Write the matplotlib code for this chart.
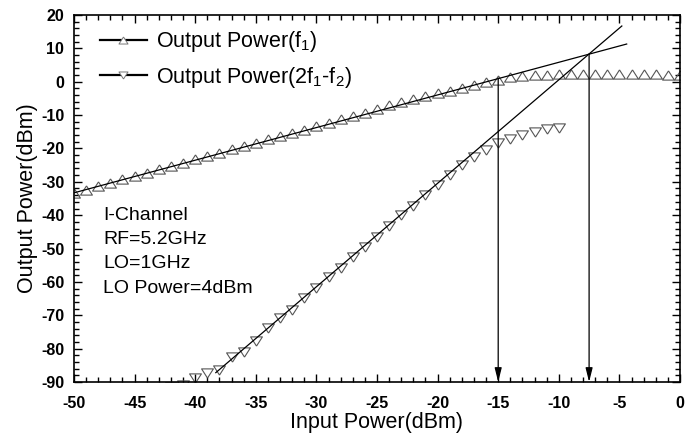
import matplotlib
matplotlib.use("Agg")
import matplotlib.pyplot as plt
from matplotlib.lines import Line2D
from matplotlib.ticker import MultipleLocator

plt.rcParams['font.family'] = ['Liberation Sans', 'DejaVu Sans']
plt.rcParams['mathtext.fontset'] = 'custom'
plt.rcParams['mathtext.rm'] = 'Liberation Sans'
plt.rcParams['mathtext.it'] = 'Liberation Sans:italic'
plt.rcParams['axes.unicode_minus'] = False

# fundamental output power, input -50..0 dBm
pin_f1 = list(range(-50, 1))
pout_f1 = [-33.3, -32.4, -31.2, -30.3, -29.1, -28.2, -27.3, -26.2, -25.2, -24.3,
           -23.2, -22.2, -21.4, -20.2, -19.3, -18.4, -17.2, -16.3, -15.4, -14.4,
           -13.3, -12.4, -11.2, -10.3, -9.4, -8.1, -7.0, -6.1, -5.2, -4.3,
           -3.4, -2.8, -1.9, -1.0, -0.1, 0.6, 1.3, 1.7, 2.0, 2.1,
           2.2, 2.3, 2.3, 2.3, 2.3, 2.3, 2.3, 2.2, 2.2, 2.1, 2.0]

# third order intermod 2f1-f2, input -42..-10 dBm
pin_im3 = list(range(-42, -9))
pout_im3 = [-91.5, -90.8, -88.8, -87.3, -86.4, -82.5, -81.0, -77.7, -73.8, -70.8,
            -68.4, -64.8, -61.8, -58.5, -55.8, -52.5, -49.5, -46.5, -43.2, -39.9,
            -37.2, -33.9, -31.0, -28.0, -25.0, -22.6, -20.5, -18.4, -17.2, -16.0,
            -15.0, -14.2, -13.9]

# extrapolated fit lines
fit_f1_x = [-50, -4.4]
fit_f1_y = [-33.3, 11.3]
fit_im3_x = [-38.3, -4.8]
fit_im3_y = [-87.2, 16.7]

# P1dB and IIP3 points
p1db = (-15, 1.1)
iip3 = (-7.5, 8.3)

notes = ["I-Channel", "RF=5.2GHz", "LO=1GHz", "LO Power=4dBm"]

fig = plt.figure(figsize=(6.92, 4.34), dpi=100)
ax = fig.add_axes([74 / 692, 1 - 382 / 434, 606 / 692, 367 / 434])

tri_up = [(0, 0.78), (-1, -0.78), (1, -0.78), (0, 0.78)]
tri_dn = [(0, -0.78), (-1, 0.78), (1, 0.78), (0, -0.78)]
mec = '#555555'

ax.plot(fit_f1_x, fit_f1_y, color='black', lw=0.9, zorder=3)
ax.plot(fit_im3_x, fit_im3_y, color='black', lw=0.9, zorder=3)
ax.plot(pin_f1, pout_f1, ls='none', marker=tri_up, ms=8.5, mfc='none',
        mec=mec, mew=0.8, zorder=2)
ax.plot(pin_im3, pout_im3, ls='none', marker=tri_dn, ms=8.5, mfc='none',
        mec=mec, mew=0.8, zorder=2)

for px, py in [p1db, iip3]:
    ax.annotate('', xy=(px, -90), xytext=(px, py),
                arrowprops=dict(arrowstyle='-|>,head_length=0.6,head_width=0.15',
                                color='black', lw=0.9, mutation_scale=14,
                                shrinkA=0, shrinkB=0))

for i, t in enumerate(notes):
    fig.text(103 / 692, 1 - (215 + i * 24.5) / 434, t, fontsize=14,
             va='center', ha='left')

handles = [Line2D([], [], color='black', lw=1.6, marker=tri_up,
                  ms=6.5, mfc='white', mec='#777777', mew=0.7),
           Line2D([], [], color='black', lw=1.6, marker=tri_dn,
                  ms=6.5, mfc='white', mec='#777777', mew=0.7)]
labels = [r"Output Power(f$_1$)", r"Output Power(2f$_1$-f$_2$)"]
ax.legend(handles, labels, loc='upper left', bbox_to_anchor=(0.028, 0.985),
          frameon=False, fontsize=15.5, handlelength=2.2, handletextpad=0.4,
          labelspacing=0.5, borderaxespad=0)

ax.set_xlim(-50, 0)
ax.set_ylim(-90, 20)
ax.xaxis.set_major_locator(MultipleLocator(5))
ax.xaxis.set_minor_locator(MultipleLocator(1))
ax.yaxis.set_major_locator(MultipleLocator(10))
ax.yaxis.set_minor_locator(MultipleLocator(2))
ax.tick_params(which='both', direction='in', top=True, right=True, width=1)
ax.tick_params(which='major', length=6, labelsize=11.5)
ax.tick_params(axis='x', which='major', pad=10)
ax.tick_params(axis='y', which='major', pad=7)
ax.tick_params(which='minor', length=3.5)
for lab in ax.get_xticklabels() + ax.get_yticklabels():
    lab.set_fontweight('bold')
for s in ax.spines.values():
    s.set_linewidth(1.2)

ax.set_xlabel("Input Power(dBm)", fontsize=15.5, labelpad=1)
ax.set_ylabel("Output Power(dBm)", fontsize=15.5, labelpad=2)

fig.savefig("out.png", dpi=100)
